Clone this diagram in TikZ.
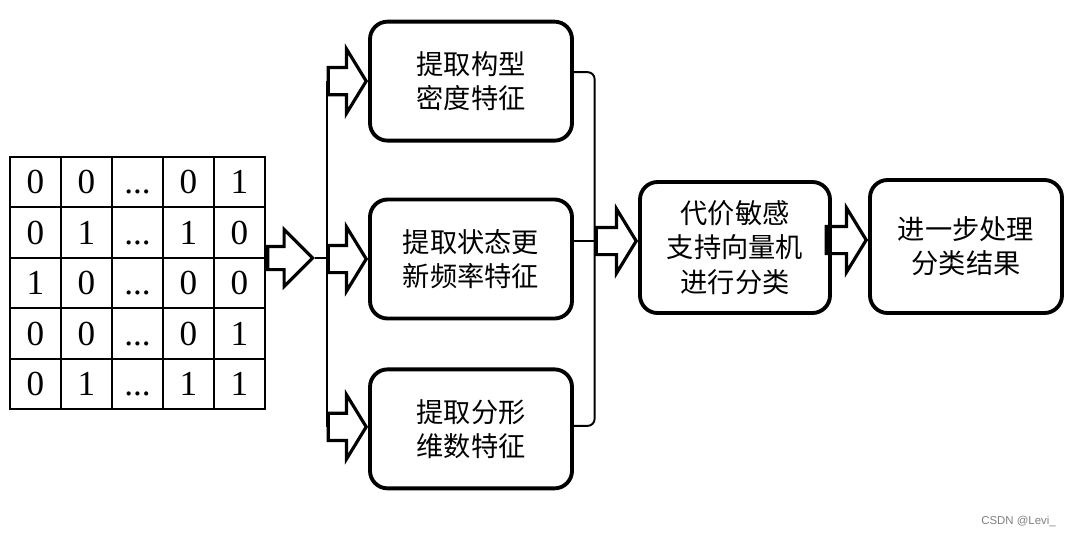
\documentclass[tikz,border=0pt]{standalone}
\usepackage{fontspec}
\setmainfont{Liberation Serif}
\newfontfamily\cjk{Noto Sans CJK SC}
\newfontfamily\wmfont{Liberation Sans}
\usetikzlibrary{positioning,matrix,shapes.arrows}
\begin{document}
\begin{tikzpicture}[
  featbox/.style={draw, line width=2.2pt, rounded corners=10pt, align=center,
    minimum width=4.04cm, minimum height=2.38cm, inner sep=0pt,
    font=\cjk\fontsize{15.5}{19.5}\selectfont},
  fatarrow/.style={single arrow, draw, line width=1.8pt, inner xsep=0pt, inner ysep=0.24cm,
    single arrow head extend=0.37cm, single arrow tip angle=117, minimum height=0.76cm},
  conn/.style={line width=1.1pt}]
\useasboundingbox (0,0) rectangle (21.5,-10.7);
% input state matrix
\matrix (grid) [matrix of nodes, inner sep=0pt, column sep=-0.9pt, row sep=-0.9pt,
  nodes={draw, line width=0.9pt, minimum width=1.02cm, minimum height=1.01cm, inner sep=0pt,
    text height=13.5pt, text depth=0.2pt, font=\fontsize{20}{24}\selectfont}] at (2.75,-5.66) {
  0 & 0 & ... & 0 & 1 \\
  0 & 1 & ... & 1 & 0 \\
  1 & 0 & ... & 0 & 0 \\
  0 & 0 & ... & 0 & 1 \\
  0 & 1 & ... & 1 & 1 \\
};
\node[single arrow, draw, line width=1.8pt, inner xsep=0pt, inner ysep=0.2cm,
  single arrow head extend=0.34cm, minimum height=0.9cm, anchor=tail] (ar0) at ([yshift=0.5cm]grid.east) {};
% feature extraction
\node[featbox] (f2) at (9.42,-5.18) {提取状态更\\新频率特征};
\node[featbox, above=1.1cm of f2] (f1) {提取构型\\密度特征};
\node[featbox, below=0.94cm of f2] (f3) {提取分形\\维数特征};
\node[fatarrow, anchor=tip] (ar1) at (f1.west) {};
\node[fatarrow, anchor=tip] (ar2) at (f2.west) {};
\node[fatarrow, anchor=tip] (ar3) at ([yshift=0.04cm]f3.west) {};
\draw[conn] (ar1.tail) -- (ar3.tail);
\draw[conn] (ar0.tip) -- (ar0.tip -| ar2.tail);
% classification
\node[featbox, minimum width=3.8cm, minimum height=2.62cm] (svm) at (14.7,-4.95) {代价敏感\\支持向量机\\进行分类};
\node[fatarrow, minimum height=0.8cm, anchor=tip] (ar4) at ([yshift=0.13cm]svm.west) {};
\draw[conn, rounded corners=4pt] ([yshift=0.18cm]f1.east) -| (ar4.tail) |- ([yshift=0.06cm]f3.east);
\draw[conn] (f2.east |- ar4.tail) -- (ar4.tail);
\node[featbox, minimum width=3.84cm, minimum height=2.66cm] (result) at (19.32,-4.93) {进一步处理\\分类结果};
\node[fatarrow, minimum height=0.8cm, anchor=tip] (ar5) at ([yshift=0.13cm]result.west) {};
\node[anchor=east, text=gray, font=\wmfont\fontsize{6.5}{8}\selectfont] (mark) at (21.24,-10.42) {CSDN @Levi\_};
\end{tikzpicture}
\end{document}
